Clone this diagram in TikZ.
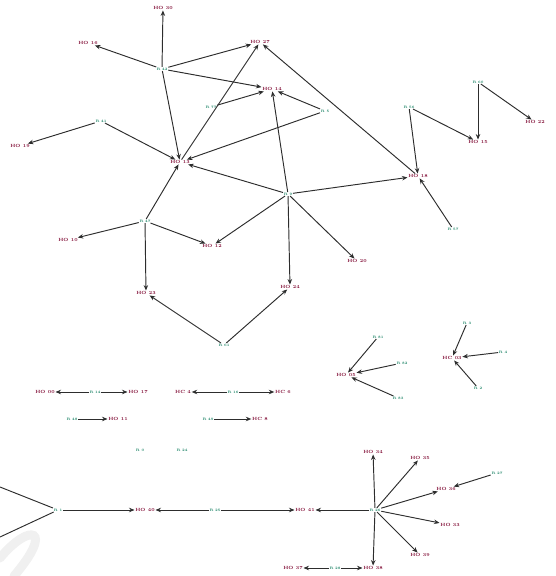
\documentclass[tikz,border=0pt]{standalone}
\usetikzlibrary{arrows.meta}
\definecolor{hocol}{RGB}{130,15,55}
\definecolor{rcol}{RGB}{25,130,100}
\definecolor{edgecol}{RGB}{45,45,45}
\begin{document}
\begin{tikzpicture}[x=1pt,y=-1pt,
  ho/.style={text=hocol,inner sep=0.6pt,font=\fontsize{4.5}{5}\selectfont\bfseries},
  rr/.style={text=rcol,inner sep=0.6pt,font=\fontsize{3.5}{4}\selectfont\bfseries},
  link/.style={draw=edgecol,line width=0.95pt,-{Stealth[length=5.5pt,width=4.5pt,fill=rcol!50!black]}},
  plain/.style={draw=edgecol,line width=0.95pt}]
\useasboundingbox (0,0) rectangle (556,576);
% watermark
\draw[gray!12,line width=9pt,line cap=round] (0,558) .. controls (30,522) and (55,528) .. (14,576);

% top component
\node[rr] (r42) at (162,69) {R 42};
\node[ho] (ho30) at (163,8) {HO 30};
\node[ho] (ho16) at (88,43) {HO 16};
\node[ho] (ho27) at (260,42) {HO 27};
\node[ho] (ho14) at (272,89) {HO 14};
\node[rr] (r77) at (211,107) {R 77};
\node[rr] (r41) at (101,121) {R 41};
\node[ho] (ho19) at (20,146) {HO 19};
\node[ho] (ho13) at (180,162) {HO 13};
\node[rr] (r5) at (325,111) {R 5};
\node[rr] (r9) at (288,194) {R 9};
\node[ho] (ho20) at (357,261) {HO 20};
\node[ho] (ho24) at (290,287) {HO 24};
\node[rr] (r61) at (224,345) {R 61};
\node[rr] (r47) at (145,221) {R 47};
\node[ho] (ho10) at (68,240) {HO 10};
\node[ho] (ho12) at (212,246) {HO 12};
\node[ho] (ho23) at (146,293) {HO 23};

\draw[link] (r42)--(ho30);
\draw[link] (r42)--(ho16);
\draw[link] (r42)--(ho27);
\draw[link] (r42)--(ho14);
\draw[link] (r42)--(ho13);
\draw[link] (r77)--(ho14);
\draw[link] (ho13)--(ho27);
\draw[link] (r41)--(ho19);
\draw[link] (r41)--(ho13);
\draw[link] (r5)--(ho13);
\draw[link] (r5)--(ho14);
\draw[link] (r9)--(ho14);
\draw[link] (r9)--(ho13);
\draw[link] (r9)--(ho12);
\draw[link] (r9)--(ho20);
\draw[link] (r9)--(ho24);
\draw[link] (r47)--(ho13);
\draw[link] (r47)--(ho10);
\draw[link] (r47)--(ho12);
\draw[link] (r47)--(ho23);
\draw[link] (r61)--(ho23);
\draw[link] (r61)--(ho24);

% right part
\node[rr] (r56) at (409,107) {R 56};
\node[ho] (ho18) at (418,176) {HO 18};
\node[rr] (r57) at (453,229) {R 57};
\node[rr] (r60) at (478,82) {R 60};
\node[ho] (ho15) at (478,142) {HO 15};
\node[ho] (ho22) at (535,122) {HO 22};

\draw[link] (r9)--(ho18);
\draw[link] (ho18)--(ho27);
\draw[link] (r56)--(ho18);
\draw[link] (r56)--(ho15);
\draw[link] (r57)--(ho18);
\draw[link] (r60)--(ho15);
\draw[link] (r60)--(ho22);

% middle stars
\node[ho] (ho05) at (346,375) {HO 05};
\node[rr] (r81) at (378,337) {R 81};
\node[rr] (r82) at (402,363) {R 82};
\node[rr] (r83) at (398,398) {R 83};
\draw[link] (r81)--(ho05);
\draw[link] (r82)--(ho05);
\draw[link] (r83)--(ho05);

\node[ho] (hc03) at (452,358) {HC 03};
\node[rr] (r3) at (467,323) {R 3};
\node[rr] (r4) at (503,352) {R 4};
\node[rr] (r2) at (478,388) {R 2};
\draw[link] (r3)--(hc03);
\draw[link] (r4)--(hc03);
\draw[link] (r2)--(hc03);

% small pairs
\node[ho] (ho00) at (45,392) {HO 00};
\node[rr] (r14) at (95,392) {R 14};
\node[ho] (ho17) at (138,392) {HO 17};
\draw[link] (r14)--(ho00);
\draw[link] (r14)--(ho17);

\node[ho] (hc4) at (183,392) {HC 4};
\node[rr] (r16) at (233,392) {R 16};
\node[ho] (hc6) at (283,392) {HC 6};
\draw[link] (r16)--(hc4);
\draw[link] (r16)--(hc6);

\node[rr] (r48) at (72,419) {R 48};
\node[ho] (ho11) at (118,419) {HO 11};
\draw[link] (r48)--(ho11);

\node[rr] (r49) at (208,419) {R 49};
\node[ho] (hc8) at (260,419) {HC 8};
\draw[link] (r49)--(hc8);

\node[rr] (r0) at (140,450) {R 0};
\node[rr] (r24) at (182,450) {R 24};

% bottom component
\coordinate (cl1) at (0,487);
\coordinate (cl2) at (0,537);
\node[rr] (r1) at (58,510) {R 1};
\node[ho] (ho40) at (145,510) {HO 40};
\node[rr] (r25) at (215,510) {R 25};
\node[ho] (ho41) at (305,510) {HO 41};
\node[rr] (r26) at (375,510) {R 26};
\node[ho] (ho34) at (373,452) {HO 34};
\node[ho] (ho35) at (420,458) {HO 35};
\node[ho] (ho36) at (446,489) {HO 36};
\node[rr] (r27) at (497,473) {R 27};
\node[ho] (ho33) at (450,525) {HO 33};
\node[ho] (ho39) at (420,555) {HO 39};
\node[ho] (ho38) at (373,568) {HO 38};
\node[ho] (ho37) at (293,568) {HO 37};
\node[rr] (r28) at (335,568) {R 28};

\draw[plain] (cl1)--(r1);
\draw[plain] (cl2)--(r1);
\draw[link] (r1)--(ho40);
\draw[link] (r25)--(ho40);
\draw[link] (r25)--(ho41);
\draw[link] (r26)--(ho41);
\draw[link] (r26)--(ho34);
\draw[link] (r26)--(ho35);
\draw[link] (r26)--(ho36);
\draw[link] (r27)--(ho36);
\draw[link] (r26)--(ho33);
\draw[link] (r26)--(ho39);
\draw[link] (r26)--(ho38);
\draw[link] (r28)--(ho37);
\draw[link] (r28)--(ho38);
\end{tikzpicture}
\end{document}
